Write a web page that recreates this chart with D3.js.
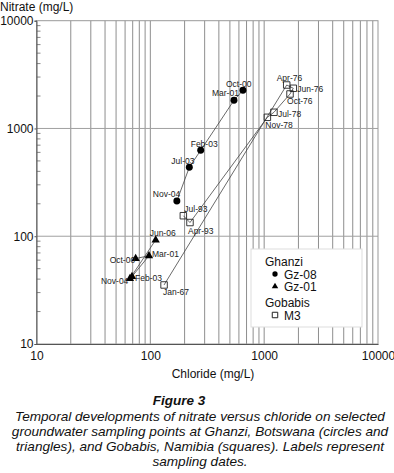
<!DOCTYPE html>
<html>
<head>
<meta charset="utf-8">
<script src="https://cdn.jsdelivr.net/npm/d3@7/dist/d3.min.js"></script>
<style>
  body { margin: 0; background: #fff; }
  text { font-family: "Liberation Sans", Arial, sans-serif; fill: #111; }
</style>
</head>
<body>
<div id="chart"></div>
<script>
// data (chloride, nitrate in mg/L)
let gz08Dates = ["Oct-00", "Mar-01", "Feb-03", "Jul-03", "Nov-04"];
let gz08Chloride = [651, 543, 277, 220, 171];
let gz08Nitrate = [2260, 1825, 627, 436, 212];

let gz01Dates = ["Oct-00", "Mar-01", "Feb-03", "Nov-04", "Jun-06"];
let gz01Chloride = [74.3, 97.3, 69.0, 66.2, 111.4];
let gz01Nitrate = [62.1, 65.9, 42.3, 40.5, 92.3];

let m3Dates = ["Jan-67", "Apr-76", "Jun-76", "Oct-76", "Jul-78", "Nov-78", "Apr-93", "Jul-93"];
let m3Chloride = [132, 1578, 1803, 1687, 1219, 1067, 223, 195];
let m3Nitrate = [35.3, 2531, 2360, 2089, 1413, 1269, 134, 155];

let axisTicks = [10, 100, 1000, 10000];

// label placement (dx, dy from the marker), layout only
let gz08LabelOffsets = [[-17, -3], [-22, -4], [-10, -3], [-18, -3], [-24, -4]];
let gz01LabelOffsets = [[-26, 4], [3, 1.5], [3, 4], [-29, 5], [-6, -4]];
let m3LabelOffsets = [[-1, 10], [-10, -4.5], [4, 4], [-3, 10], [4, 5], [-2, 10.5], [-2, 11.5], [1, -4]];

let width = 394, height = 473;
let margin = { top: 20.7, right: 16, bottom: 129, left: 36.5 };

let svg = d3.select("#chart")
    .append("svg")
    .attr("width", width)
    .attr("height", height);

let x = d3.scaleLog()
    .domain([10, 10000])
    .range([margin.left, width - margin.right]);
let y = d3.scaleLog()
    .domain([10, 10000])
    .range([height - margin.bottom, margin.top]);

// minor values 2..9 in each decade
let minor = [];
[10, 100, 1000].forEach(function (d) {
    for (let k = 2; k <= 9; k++) minor.push(d * k);
});

// vertical grid at every minor + major value
svg.append("g")
    .selectAll("line")
    .data(minor.concat([100, 1000]))
    .enter()
    .append("line")
    .attr("x1", function (d) { return x(d); })
    .attr("x2", function (d) { return x(d); })
    .attr("y1", y(10000))
    .attr("y2", y(10))
    .style("stroke", "#8e8e8e")
    .style("stroke-width", 1);

// horizontal grid only on majors
svg.append("g")
    .selectAll("line")
    .data([100, 1000])
    .enter()
    .append("line")
    .attr("x1", x(10))
    .attr("x2", x(10000))
    .attr("y1", function (d) { return y(d); })
    .attr("y2", function (d) { return y(d); })
    .style("stroke", "#a0a0a0")
    .style("stroke-width", 1);

// frame
svg.append("rect")
    .attr("x", x(10))
    .attr("y", y(10000))
    .attr("width", x(10000) - x(10))
    .attr("height", y(10) - y(10000))
    .style("fill", "none")
    .style("stroke", "#999");

// y minor ticks inside the left axis
svg.append("g")
    .selectAll("line")
    .data(minor)
    .enter()
    .append("line")
    .attr("x1", x(10))
    .attr("x2", x(10) + 4)
    .attr("y1", function (d) { return y(d); })
    .attr("y2", function (d) { return y(d); })
    .style("stroke", "#888");

// left + bottom axes using d3 axis for the labels
let xAxis = d3.axisBottom(x).tickValues(axisTicks).tickFormat(d3.format("d")).tickSize(0).tickPadding(7);
let yAxis = d3.axisLeft(y).tickValues(axisTicks).tickFormat(d3.format("d")).tickSize(2).tickPadding(1);

let gx = svg.append("g")
    .attr("transform", "translate(0," + y(10) + ")")
    .call(xAxis);
let gy = svg.append("g")
    .attr("transform", "translate(" + x(10) + ",0)")
    .call(yAxis);

[gx, gy].forEach(function (g) {
    g.select(".domain").style("stroke", "#555");
    g.selectAll(".tick line").style("stroke", "#555");
    g.selectAll("text")
        .style("font-family", "'Liberation Sans', Arial, sans-serif")
        .style("font-size", "12px")
        .style("fill", "#111");
});

// axis titles
svg.append("text")
    .attr("x", 0)
    .attr("y", 11)
    .text("Nitrate (mg/L)")
    .attr("font-size", "12px");

svg.append("text")
    .attr("x", 213)
    .attr("y", 378)
    .attr("text-anchor", "middle")
    .text("Chloride (mg/L)")
    .attr("font-size", "12px");

// series
let series = [
    { dates: gz08Dates, cl: gz08Chloride, no3: gz08Nitrate, offsets: gz08LabelOffsets, shape: "circle" },
    { dates: gz01Dates, cl: gz01Chloride, no3: gz01Nitrate, offsets: gz01LabelOffsets, shape: "triangle" },
    { dates: m3Dates, cl: m3Chloride, no3: m3Nitrate, offsets: m3LabelOffsets, shape: "square" }
];

let line = d3.line()
    .x(function (d) { return x(d[0]); })
    .y(function (d) { return y(d[1]); });

let symbolOf = {
    circle: d3.symbol().type(d3.symbolCircle).size(38),
    triangle: d3.symbol().type(d3.symbolTriangle).size(30),
    square: d3.symbol().type(d3.symbolSquare).size(42)
};

series.forEach(function (s) {
    let pts = s.dates.map(function (d, i) { return [s.cl[i], s.no3[i], d, s.offsets[i]]; });

    svg.append("path")
        .datum(pts)
        .attr("d", line)
        .style("fill", "none")
        .style("stroke", "#444")
        .style("stroke-width", 0.8);

    svg.append("g")
        .selectAll("path")
        .data(pts)
        .enter()
        .append("path")
        .attr("transform", function (d) { return "translate(" + x(d[0]) + "," + y(d[1]) + ")"; })
        .attr("d", symbolOf[s.shape])
        .style("fill", s.shape == "square" ? "none" : "#000")
        .style("stroke", s.shape == "square" ? "#222" : "none")
        .style("stroke-width", 0.9);

    svg.append("g")
        .selectAll("text")
        .data(pts)
        .enter()
        .append("text")
        .attr("x", function (d) { return x(d[0]) + d[3][0]; })
        .attr("y", function (d) { return y(d[1]) + d[3][1]; })
        .text(function (d) { return d[2]; })
        .attr("font-size", "8.5px")
        .style("fill", "#222");
});

// legend
let lg = svg.append("g").attr("transform", "translate(251,249)");
lg.append("rect")
    .attr("width", 111)
    .attr("height", 78)
    .style("fill", "#fff")
    .style("stroke", "#ddd");

let legendRows = [
    { text: "Ghanzi", x: 14, y: 17 },
    { text: "Gz-08", x: 33, y: 29.5, shape: "circle" },
    { text: "Gz-01", x: 33, y: 42, shape: "triangle" },
    { text: "Gobabis", x: 14, y: 58 },
    { text: "M3", x: 33, y: 70.5, shape: "square" }
];
lg.selectAll("text")
    .data(legendRows)
    .enter()
    .append("text")
    .attr("x", function (d) { return d.x; })
    .attr("y", function (d) { return d.y; })
    .text(function (d) { return d.text; })
    .attr("font-size", "12px");

let legendSym = {
    circle: d3.symbol().type(d3.symbolCircle).size(22),
    triangle: d3.symbol().type(d3.symbolTriangle).size(18),
    square: d3.symbol().type(d3.symbolSquare).size(30)
};
lg.selectAll("path")
    .data(legendRows.filter(function (d) { return d.shape; }))
    .enter()
    .append("path")
    .attr("transform", function (d) { return "translate(" + 24 + "," + (d.y - 4.5) + ")"; })
    .attr("d", function (d) { return legendSym[d.shape](); })
    .style("fill", function (d) { return d.shape == "square" ? "none" : "#000"; })
    .style("stroke", function (d) { return d.shape == "square" ? "#222" : "none"; });

// caption
svg.append("text")
    .attr("x", 179)
    .attr("y", 405)
    .attr("text-anchor", "middle")
    .text("Figure 3")
    .attr("font-size", "13.5px")
    .style("font-weight", "bold")
    .style("font-style", "italic");

let captionLines = [
    "Temporal developments of nitrate versus chloride on selected",
    "groundwater sampling points at Ghanzi, Botswana (circles and",
    "triangles), and Gobabis, Namibia (squares). Labels represent",
    "sampling dates."
];
svg.append("g")
    .selectAll("text")
    .data(captionLines)
    .enter()
    .append("text")
    .attr("x", 200)
    .attr("y", function (d, i) { return 421 + i * 15; })
    .attr("text-anchor", "middle")
    .text(function (d) { return d; })
    .attr("font-size", "13.6px")
    .style("font-style", "italic");
</script>
</body>
</html>
